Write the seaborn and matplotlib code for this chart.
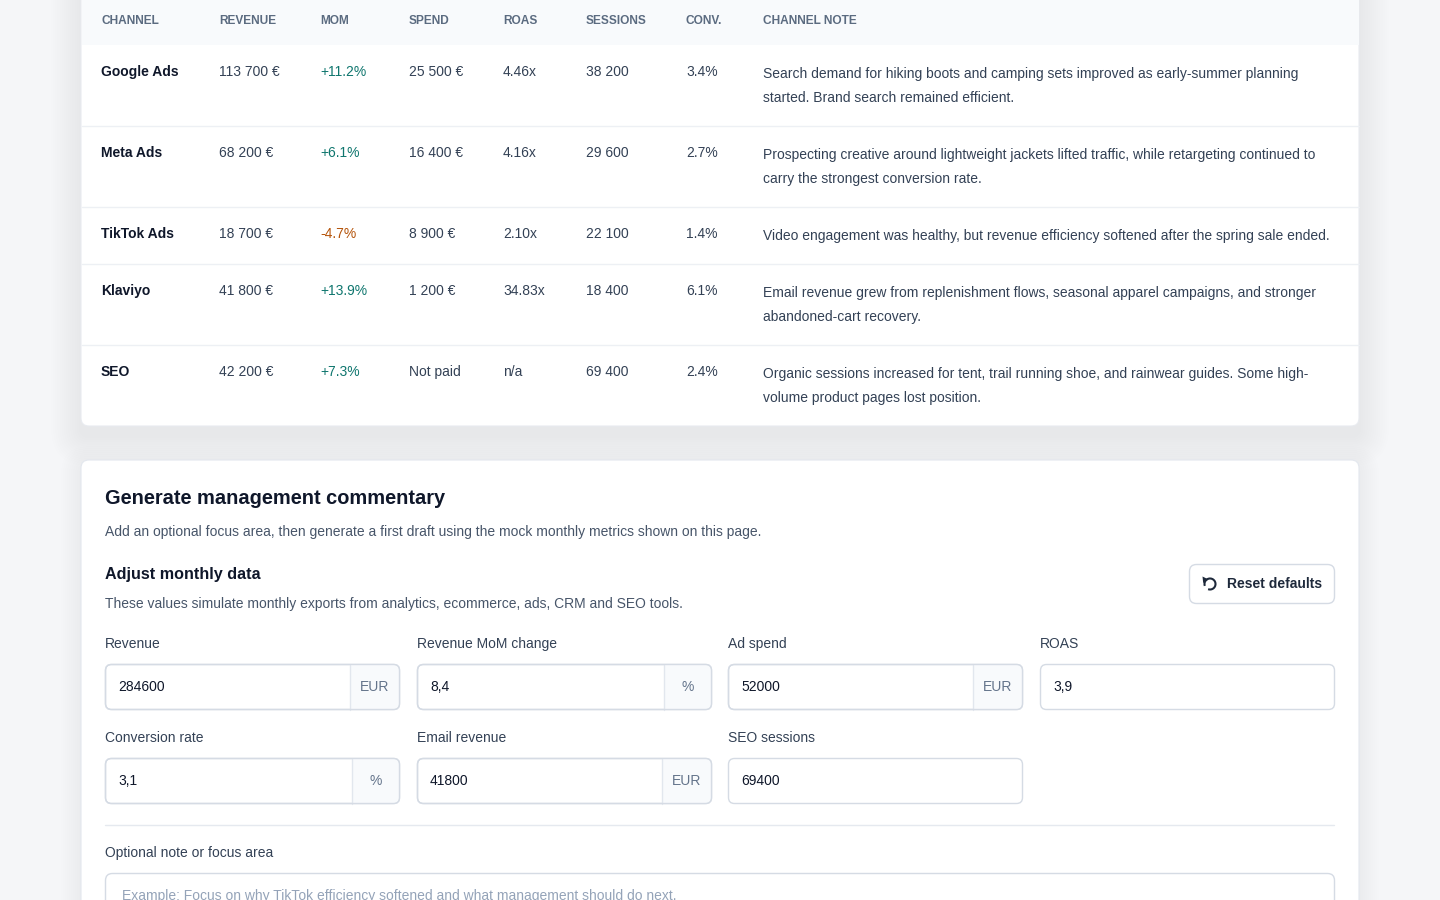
import matplotlib
matplotlib.use("Agg")
import matplotlib.pyplot as plt
from matplotlib.patches import FancyBboxPatch, Rectangle, Arc, Polygon
import seaborn as sns

# ---------------- data ----------------
columns = ["CHANNEL", "REVENUE", "MOM", "SPEND", "ROAS", "SESSIONS", "CONV.", "CHANNEL NOTE"]
channels = ["Google Ads", "Meta Ads", "TikTok Ads", "Klaviyo", "SEO"]
revenue = ["113 700 €", "68 200 €", "18 700 €", "41 800 €", "42 200 €"]
mom = [11.2, 6.1, -4.7, 13.9, 7.3]
spend = ["25 500 €", "16 400 €", "8 900 €", "1 200 €", "Not paid"]
roas = ["4.46x", "4.16x", "2.10x", "34.83x", "n/a"]
sessions = ["38 200", "29 600", "22 100", "18 400", "69 400"]
conv = ["3.4%", "2.7%", "1.4%", "6.1%", "2.4%"]
notes = [
    "Search demand for hiking boots and camping sets improved as early-summer planning\nstarted. Brand search remained efficient.",
    "Prospecting creative around lightweight jackets lifted traffic, while retargeting continued to\ncarry the strongest conversion rate.",
    "Video engagement was healthy, but revenue efficiency softened after the spring sale ended.",
    "Email revenue grew from replenishment flows, seasonal apparel campaigns, and stronger\nabandoned-cart recovery.",
    "Organic sessions increased for tent, trail running shoe, and rainwear guides. Some high-\nvolume product pages lost position.",
]

form_title = "Generate management commentary"
form_subtitle = "Add an optional focus area, then generate a first draft using the mock monthly metrics shown on this page."
section_title = "Adjust monthly data"
section_subtitle = "These values simulate monthly exports from analytics, ecommerce, ads, CRM and SEO tools."
button_label = "Reset defaults"
field_labels = ["Revenue", "Revenue MoM change", "Ad spend", "ROAS",
                "Conversion rate", "Email revenue", "SEO sessions"]
field_values = ["284600", "8,4", "52000", "3,9", "3,1", "41800", "69400"]
field_suffix = ["EUR", "%", "EUR", "", "%", "EUR", ""]
note_label = "Optional note or focus area"
note_placeholder = "Example: Focus on why TikTok efficiency softened and what management should do next."

# ---------------- style ----------------
sns.set_theme(style="white")
plt.rcParams["font.family"] = ["Liberation Sans", "DejaVu Sans"]

BG = "#f5f6f8"
DARK = "#0f172a"
BODY = "#334155"
MUTED = "#475569"
HEAD = "#5b6b80"
BORDER = "#d5dbe4"
LIGHT = "#f8fafc"
POS = "#0f766e"
NEG = "#b45309"
FS = 10.0

fig = plt.figure(figsize=(14.4, 9), dpi=100, facecolor=BG)
ax = fig.add_axes([0, 0, 1, 1])
ax.set_xlim(0, 1440)
ax.set_ylim(900, 0)
ax.axis("off")
ax.set_facecolor(BG)

def rbox(x, y, w, h, r, fc, ec="none", lw=1.0, z=1, alpha=1.0):
    p = FancyBboxPatch((x, y), w, h, boxstyle=f"round,pad=0,rounding_size={r}",
                       fc=fc, ec=ec, lw=lw, zorder=z, alpha=alpha, mutation_aspect=1)
    ax.add_patch(p)
    return p

def shadow(x, y, w, h, layers=14, spread=30, dy=10, a=0.0045):
    for k in range(layers):
        g = spread * (k + 1) / layers
        rbox(x - g, y - g + dy, w + 2 * g, h + 2 * g, 8 + g, "#0f172a", z=0.5, alpha=a)

# ---------------- top card (table) ----------------
shadow(81, -40, 1278, 466)
rbox(81, -40, 1278, 466, 8, "white", ec="#e8ebf0", lw=0.8, z=1)
ax.add_patch(Rectangle((81.5, -40), 1277, 85, fc=LIGHT, ec="none", zorder=1.2))

col_x = [101, 219, 320, 409, 503, 586, 686, 763]
for cx, name in zip(col_x, columns):
    ax.text(cx, 21, name, fontsize=8.6, fontweight="bold", color=HEAD,
            va="center", ha="left", zorder=3)

row_y = [72, 153, 234, 291, 372]
sep_y = [126, 207, 264, 345]
for sy in sep_y:
    ax.plot([81.5, 1358.5], [sy, sy], color="#edf0f4", lw=1.0, zorder=2)

for i, ch in enumerate(channels):
    y = row_y[i]
    ax.text(col_x[0], y, ch, fontsize=FS, fontweight="bold", color=DARK, va="center", zorder=3)
    ax.text(col_x[1], y, revenue[i], fontsize=FS, color=BODY, va="center", zorder=3)
    m = mom[i]
    ax.text(col_x[2], y, f"{m:+.1f}%", fontsize=FS, color=POS if m >= 0 else NEG,
            va="center", zorder=3)
    ax.text(col_x[3], y, spend[i], fontsize=FS, color=BODY, va="center", zorder=3)
    ax.text(col_x[4], y, roas[i], fontsize=FS, color=BODY, va="center", zorder=3)
    ax.text(col_x[5], y, sessions[i], fontsize=FS, color=BODY, va="center", zorder=3)
    ax.text(col_x[6], y, conv[i], fontsize=FS, color=BODY, va="center", zorder=3)
    for j, line in enumerate(notes[i].split("\n")):
        ax.text(col_x[7], y + 2 + 24 * j, line, fontsize=FS, color=BODY,
                va="center", zorder=3)

# ---------------- bottom card (form) ----------------
shadow(81, 460, 1278, 500, layers=10, spread=20, dy=6, a=0.003)
rbox(81, 460, 1278, 500, 8, "white", ec="#e3e7ee", lw=0.8, z=1)

ax.text(105, 498, form_title, fontsize=14.4, fontweight="bold", color=DARK, va="center", zorder=3)
ax.text(105, 532, form_subtitle, fontsize=FS, color=MUTED, va="center", zorder=3)
ax.text(105, 575, section_title, fontsize=11.6, fontweight="bold", color=DARK, va="center", zorder=3)
ax.text(105, 604, section_subtitle, fontsize=FS, color=MUTED, va="center", zorder=3)

# reset button
rbox(1189.5, 564.5, 145, 39, 7, "white", ec=BORDER, lw=1.0, z=2)
ax.add_patch(Arc((1210, 584), 11, 11, theta1=-200, theta2=110, color="#1e293b", lw=1.5, zorder=3))
ax.add_patch(Polygon([[1202.5, 576.5], [1203.2, 583], [1208.5, 579.5]], closed=True,
                     fc="#1e293b", ec="none", zorder=3))
ax.text(1227, 584, button_label, fontsize=FS, fontweight="bold", color="#1e293b",
        va="center", zorder=3)

# input fields
field_x = [105, 417, 728, 1040, 105, 417, 728]
field_row = [0, 0, 0, 0, 1, 1, 1]
label_y = [644, 738]
box_top = [664.5, 758.5]
box_w = 295
box_h = 45
suffix_w = {"EUR": 50, "%": 48}
for i, lab in enumerate(field_labels):
    x = field_x[i]
    r = field_row[i]
    ax.text(x, label_y[r], lab, fontsize=FS, color=BODY, va="center", zorder=3)
    rbox(x + 0.5, box_top[r], box_w - 1, box_h, 6, "white", ec=BORDER, lw=1.0, z=2)
    suf = field_suffix[i]
    if suf:
        sw = suffix_w[suf]
        sx = x + box_w - sw
        rbox(sx, box_top[r] + 0.5, sw - 1, box_h - 1, 5, LIGHT, ec="none", z=2.1)
        ax.add_patch(Rectangle((sx, box_top[r] + 0.5), 8, box_h - 1, fc=LIGHT, ec="none", zorder=2.15))
        ax.plot([sx, sx], [box_top[r], box_top[r] + box_h], color="#e2e7ee", lw=1.0, zorder=2.2)
        rbox(x + 0.5, box_top[r], box_w - 1, box_h, 6, "none", ec=BORDER, lw=1.0, z=2.3)
        ax.text(sx + sw / 2, box_top[r] + box_h / 2, suf, fontsize=FS, color="#64748b",
                va="center", ha="center", zorder=3)
    ax.text(x + 13, box_top[r] + box_h / 2, field_values[i], fontsize=FS, color=DARK,
            va="center", zorder=3)

ax.plot([105, 1334], [824.5, 824.5], color="#e5e9ef", lw=1.0, zorder=2)
ax.text(105, 853, note_label, fontsize=FS, color=BODY, va="center", zorder=3)
rbox(105.5, 873.5, 1229, 80, 7, "white", ec=BORDER, lw=1.0, z=2)
ax.text(122, 896, note_placeholder, fontsize=FS, color="#94a3b8", va="center", zorder=3)

fig.savefig("out.png", dpi=100, facecolor=BG)
